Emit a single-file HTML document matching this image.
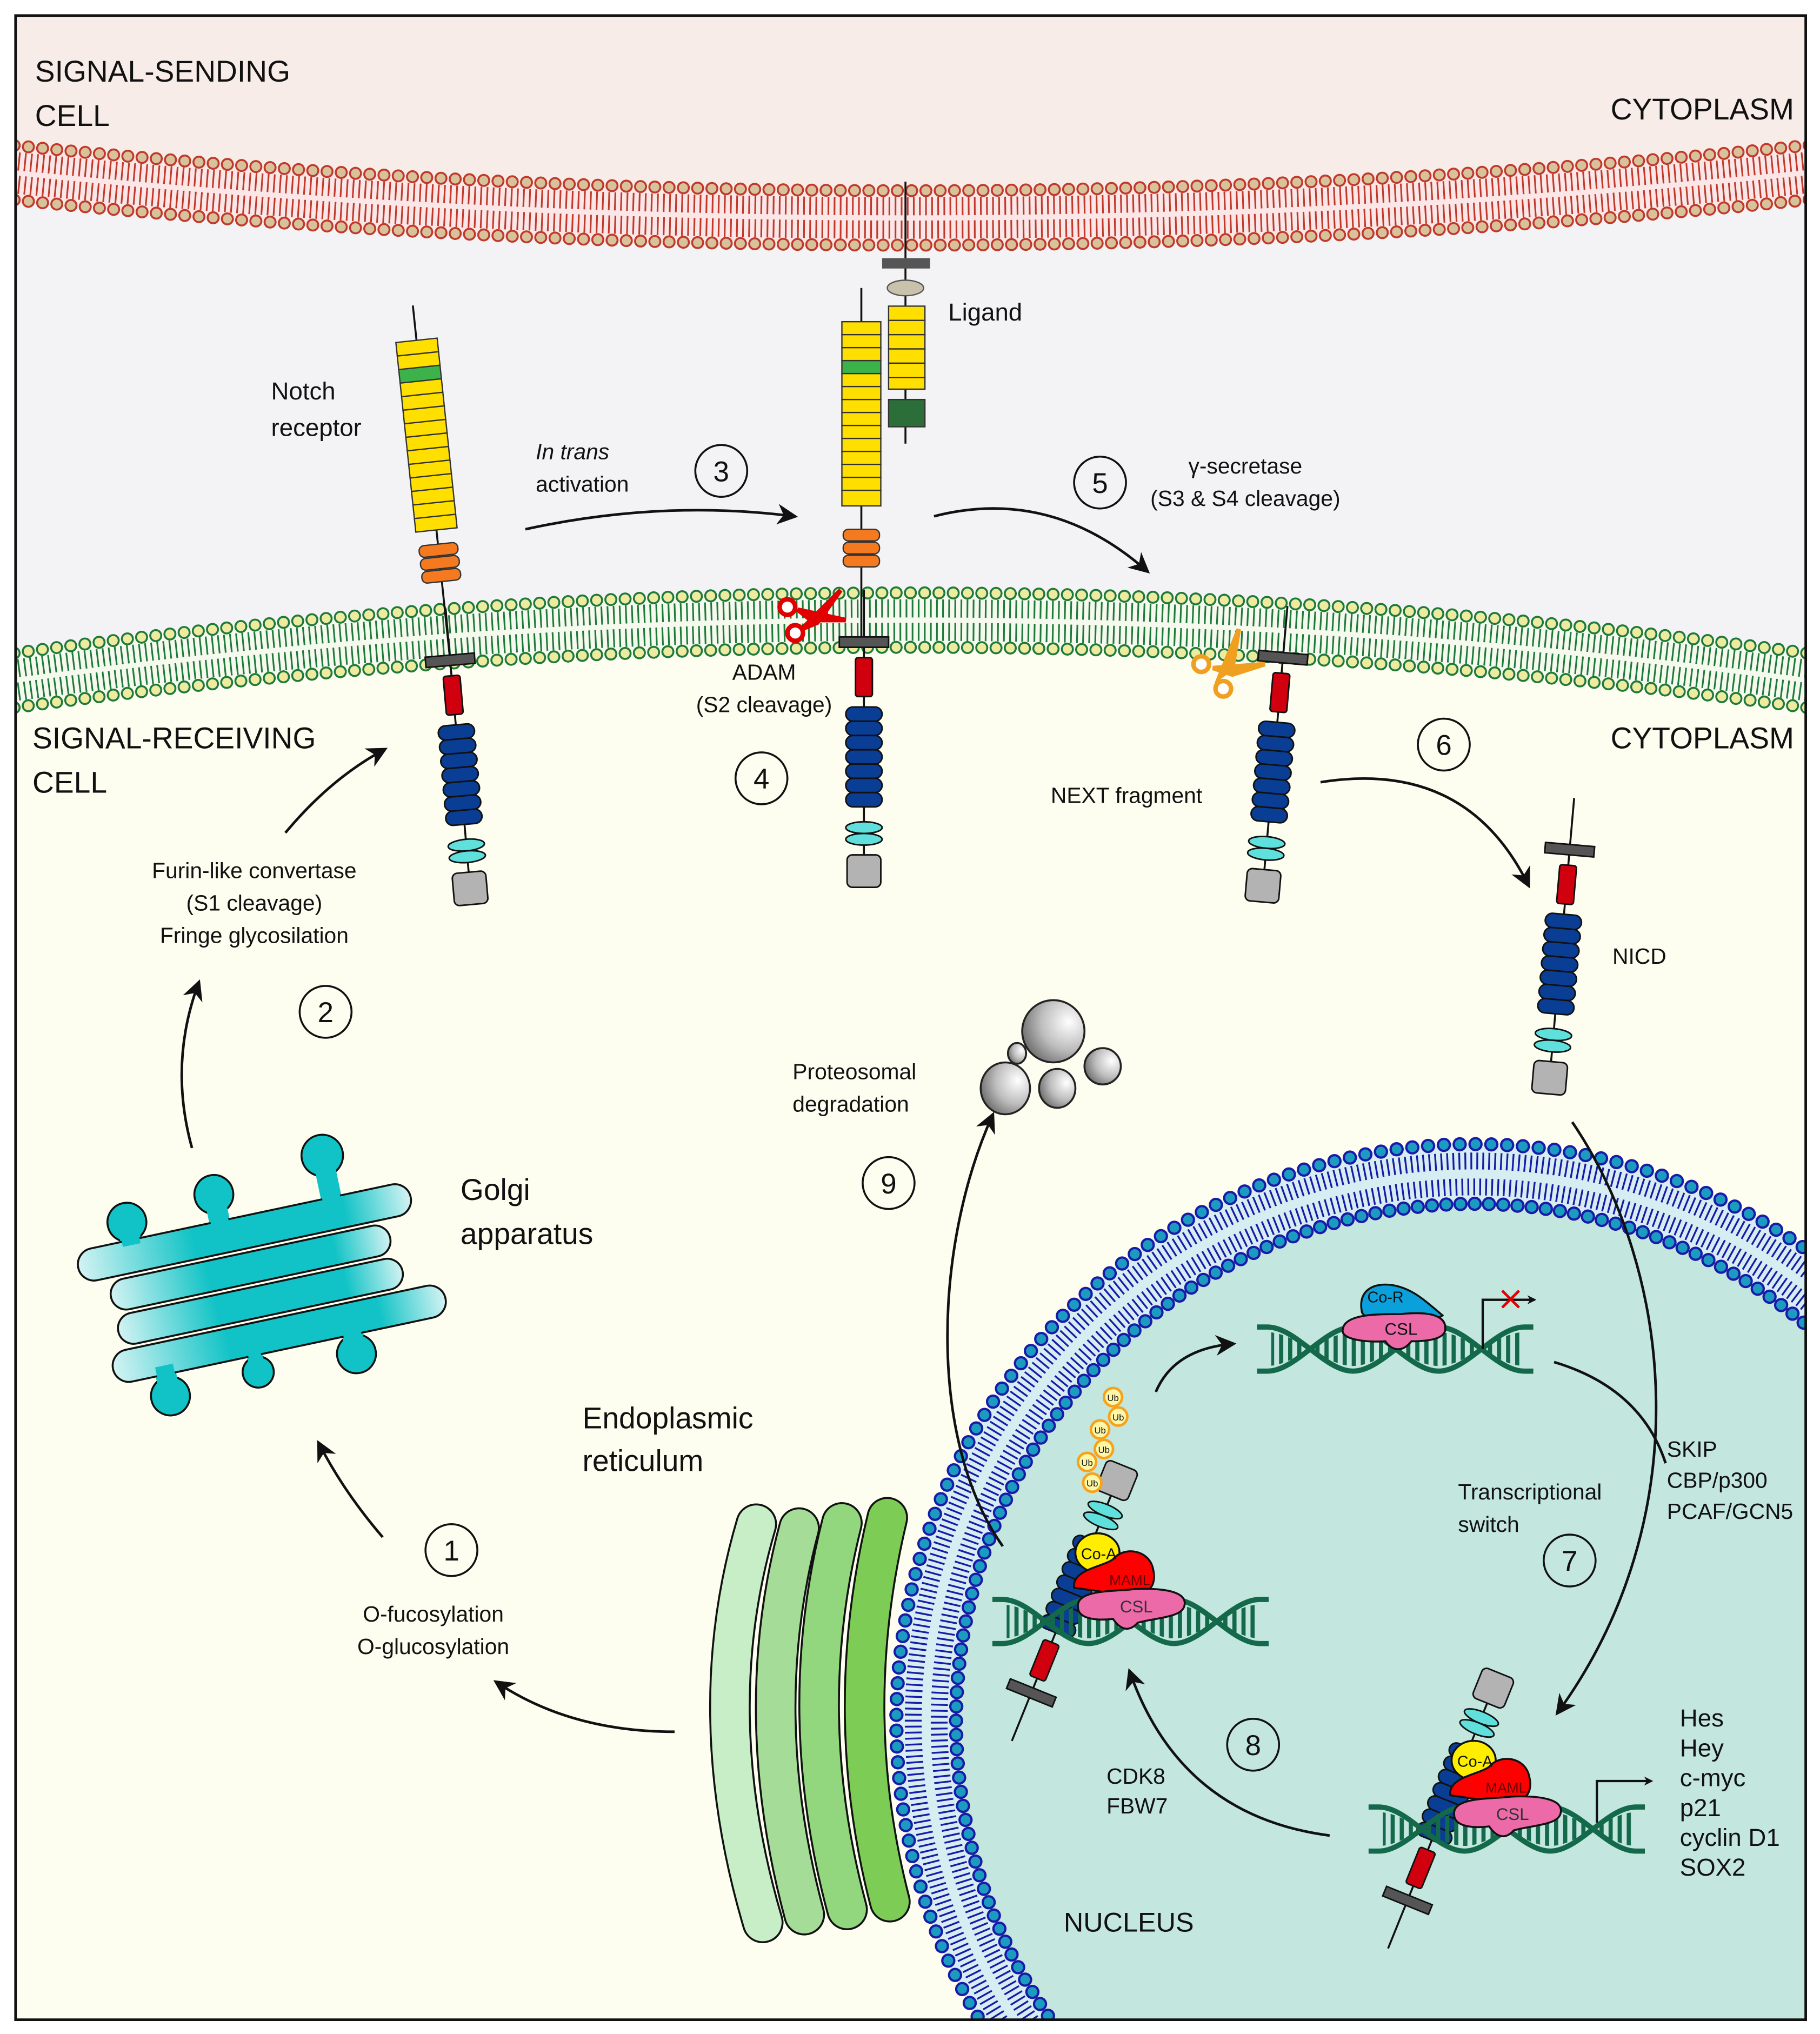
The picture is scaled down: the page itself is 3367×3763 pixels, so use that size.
<!DOCTYPE html>
<html><head><meta charset="utf-8">
<style>html,body{margin:0;padding:0;background:#fff;width:3367px;height:3763px;overflow:hidden}svg{display:block}text{font-family:"Liberation Sans",sans-serif;fill:#111}</style>
</head><body>
<svg xmlns="http://www.w3.org/2000/svg" xmlns:xlink="http://www.w3.org/1999/xlink" width="3367" height="3763" viewBox="0 0 1403 1568" preserveAspectRatio="none">
<defs>
<clipPath id="frame"><rect x="12" y="12" width="1380" height="1545"/></clipPath>
<marker id="ah" viewBox="0 0 10 10" refX="8" refY="5" markerWidth="7" markerHeight="7" markerUnits="userSpaceOnUse" orient="auto"><path d="M0,0 L10,5 L0,10 L3,5 Z" fill="#111"/></marker>
<marker id="ah2" viewBox="0 0 10 10" refX="8" refY="5" markerWidth="16" markerHeight="16" markerUnits="userSpaceOnUse" orient="auto"><path d="M0,0 L10,5 L0,10 L3,5 Z" fill="#111"/></marker>
<linearGradient id="golgi" x1="0" x2="1" y1="0" y2="0"><stop offset="0" stop-color="#d4f3f3"/><stop offset="0.35" stop-color="#11c3c6"/><stop offset="0.8" stop-color="#11c3c6"/><stop offset="1" stop-color="#d4f3f3"/></linearGradient>
<radialGradient id="prot" cx="0.75" cy="0.35" r="0.9"><stop offset="0" stop-color="#ffffff"/><stop offset="0.5" stop-color="#bdbdbd"/><stop offset="1" stop-color="#555"/></radialGradient>
<pattern id="rungs" width="7" height="40" patternUnits="userSpaceOnUse"><rect x="0" y="0" width="3.2" height="40" fill="#14694a"/></pattern>
<clipPath id="dnaclip"><path d="M5,-13 C27,-13 49,13 71,13 C93,13 115,-13 137,-13 C159,-13 181,13 203,13 L203,-13 C181,-13 159,13 137,13 C115,13 93,-13 71,-13 C49,-13 27,13 5,13 Z"/></clipPath>
<g id="dna">
<rect x="8" y="-20" width="192" height="40" fill="url(#rungs)" clip-path="url(#dnaclip)"/>
<path d="M-3,-17 L5,-17 C27,-17 49,17 71,17 C93,17 115,-17 137,-17 C159,-17 181,17 203,17 L210,17" fill="none" stroke="#14694a" stroke-width="4"/>
<path d="M-3,17 L5,17 C27,17 49,-17 71,-17 C93,-17 115,17 137,17 C159,17 181,-17 203,-17 L210,-17" fill="none" stroke="#14694a" stroke-width="4"/>
</g>
<g id="icd" stroke="#111" stroke-width="1.2">
<line x1="0" y1="-40" x2="0" y2="185" stroke-width="1.5"/>
<rect x="-19" y="-4" width="38" height="8" fill="#555"/>
<rect x="-6.5" y="12" width="13" height="30" rx="2" fill="#d0000e"/>
<rect x="-14" y="50" width="28" height="11" rx="5.5" fill="#0a3d94"/>
<rect x="-14" y="61" width="28" height="11" rx="5.5" fill="#0a3d94"/>
<rect x="-14" y="72" width="28" height="11" rx="5.5" fill="#0a3d94"/>
<rect x="-14" y="83" width="28" height="11" rx="5.5" fill="#0a3d94"/>
<rect x="-14" y="94" width="28" height="11" rx="5.5" fill="#0a3d94"/>
<rect x="-14" y="105" width="28" height="11" rx="5.5" fill="#0a3d94"/>
<rect x="-14" y="116" width="28" height="11" rx="5.5" fill="#0a3d94"/>
<ellipse cx="0" cy="143" rx="14" ry="4.5" fill="#5fe0dc"/>
<ellipse cx="0" cy="152" rx="14" ry="4.5" fill="#5fe0dc"/>
<rect x="-13" y="164" width="26" height="25" rx="4" fill="#b3b3b3"/>
</g>
<g id="complex">
<use xlink:href="#icd" transform="translate(795,1305) rotate(-158)"/>
<use xlink:href="#dna" transform="translate(768,1250)"/>
<ellipse cx="846" cy="1197" rx="17" ry="15" fill="#ffee00" stroke="#111" stroke-width="1.5"/>
<path d="M828,1224 C826,1210 850,1208 858,1202 C866,1192 886,1194 889,1210 C892,1224 884,1230 870,1230 Z" fill="#ff0000" stroke="#111" stroke-width="1.5"/>
<path d="M831,1239 C829,1225 860,1227 875,1225 C897,1224 916,1227 913,1238 C911,1247 891,1247 877,1251 C869,1260 862,1254 858,1248 C840,1250 831,1246 831,1239 Z" fill="#ec6aa8" stroke="#111" stroke-width="1.5"/>
<text x="847" y="1202" font-size="12" text-anchor="middle">Co-A</text>
<text x="871" y="1222" font-size="11" text-anchor="middle" style="fill:#600">MAML</text>
<text x="876" y="1243" font-size="13" text-anchor="middle" style="fill:#333">CSL</text>
</g>
</defs>

<rect x="0" y="0" width="1403" height="1568" fill="#fff"/>
<g clip-path="url(#frame)">
<rect x="12" y="12" width="1380" height="1545" fill="#fdfdf0"/>
<path d="M0,0 H1404 V132 Q702,204 0,132 Z" fill="#f7ece8"/>
<path d="M0,132 Q702,204 1404,132 V526 Q702,430 0,526 Z" fill="#f3f3f6"/>

<!-- red membrane -->
<g fill="none">
<path d="M0,132 Q702,204 1404,132" stroke="#fbe7e7" stroke-width="46"/>
<path d="M0,123 Q702,195 1404,123" stroke="#c0392b" stroke-width="14" stroke-dasharray="1.3 3.4"/>
<path d="M0,141 Q702,213 1404,141" stroke="#c0392b" stroke-width="14" stroke-dasharray="1.3 3.4"/>
<path d="M0,111 Q702,183 1404,111" stroke="#c0392b" stroke-width="10" stroke-linecap="round" stroke-dasharray="0 11"/>
<path d="M0,111 Q702,183 1404,111" stroke="#d8c29c" stroke-width="7" stroke-linecap="round" stroke-dasharray="0 11"/>
<path d="M0,153 Q702,225 1404,153" stroke="#c0392b" stroke-width="10" stroke-linecap="round" stroke-dasharray="0 11"/>
<path d="M0,153 Q702,225 1404,153" stroke="#d8c29c" stroke-width="7" stroke-linecap="round" stroke-dasharray="0 11"/>
</g>
<!-- green membrane -->
<g fill="none">
<path d="M0,526 Q702,430 1404,526" stroke="#f6f9ee" stroke-width="46"/>
<path d="M0,517 Q702,421 1404,517" stroke="#1e7a3a" stroke-width="14" stroke-dasharray="1.3 3.4"/>
<path d="M0,535 Q702,439 1404,535" stroke="#1e7a3a" stroke-width="14" stroke-dasharray="1.3 3.4"/>
<path d="M0,505 Q702,409 1404,505" stroke="#1e7a3a" stroke-width="10" stroke-linecap="round" stroke-dasharray="0 11"/>
<path d="M0,505 Q702,409 1404,505" stroke="#eeeaa0" stroke-width="7" stroke-linecap="round" stroke-dasharray="0 11"/>
<path d="M0,547 Q702,451 1404,547" stroke="#1e7a3a" stroke-width="10" stroke-linecap="round" stroke-dasharray="0 11"/>
<path d="M0,547 Q702,451 1404,547" stroke="#eeeaa0" stroke-width="7" stroke-linecap="round" stroke-dasharray="0 11"/>
</g>

<!-- nucleus -->
<circle cx="1136" cy="1327" r="400" fill="#c3e6df"/>
<g fill="none">
<circle cx="1136" cy="1327" r="422" stroke="#d6eef2" stroke-width="48"/>
<circle cx="1136" cy="1327" r="432" stroke="#1a1aa8" stroke-width="13" stroke-dasharray="1.4 3.2"/>
<circle cx="1136" cy="1327" r="412" stroke="#1a1aa8" stroke-width="13" stroke-dasharray="1.4 3.2"/>
<circle cx="1136" cy="1327" r="445" stroke="#1a1aa8" stroke-width="11" stroke-linecap="round" stroke-dasharray="0 12.2"/>
<circle cx="1136" cy="1327" r="445" stroke="#1a9bbf" stroke-width="7.5" stroke-linecap="round" stroke-dasharray="0 12.2"/>
<circle cx="1136" cy="1327" r="399" stroke="#1a1aa8" stroke-width="11" stroke-linecap="round" stroke-dasharray="0 11"/>
<circle cx="1136" cy="1327" r="399" stroke="#1a9bbf" stroke-width="7.5" stroke-linecap="round" stroke-dasharray="0 11"/>
</g>

<!-- Golgi -->
<g transform="rotate(-12 200 990)" stroke="#111" stroke-width="1.5" fill="#11c3c6">
<circle cx="110" cy="922" r="15"/>
<circle cx="180" cy="915" r="15"/>
<circle cx="268" cy="903" r="16"/>
<circle cx="115" cy="1060" r="15"/>
<circle cx="185" cy="1056" r="12"/>
<circle cx="262" cy="1058" r="15"/>
<g stroke="none"><rect x="102" y="922" width="16" height="20"/><rect x="172" y="915" width="16" height="25"/><rect x="260" y="903" width="16" height="36"/>
<rect x="107" y="1038" width="16" height="22"/><rect x="179" y="1038" width="12" height="18"/><rect x="254" y="1038" width="16" height="20"/></g>
<g fill="url(#golgi)">
<rect x="66" y="936" width="262" height="25" rx="12.5"/>
<rect x="86" y="964" width="220" height="24" rx="12"/>
<rect x="86" y="991" width="224" height="24" rx="12"/>
<rect x="76" y="1018" width="262" height="25" rx="12.5"/>
</g>
<g stroke="none"><rect x="103" y="930" width="14" height="10"/><rect x="173" y="930" width="14" height="10"/><rect x="261" y="930" width="14" height="10"/>
<rect x="108" y="1036" width="14" height="10"/><rect x="180" y="1036" width="10" height="10"/><rect x="255" y="1036" width="14" height="10"/></g>
</g>

<!-- ER -->
<g fill="none" stroke-linecap="round">
<path d="M583,1175 Q540,1320 588,1482" stroke="#111" stroke-width="32"/>
<path d="M583,1175 Q540,1320 588,1482" stroke="#c8eec8" stroke-width="29"/>
<path d="M616,1178 Q578,1320 620,1476" stroke="#111" stroke-width="32"/>
<path d="M616,1178 Q578,1320 620,1476" stroke="#a4dc98" stroke-width="29"/>
<path d="M649,1174 Q612,1320 653,1472" stroke="#111" stroke-width="32"/>
<path d="M649,1174 Q612,1320 653,1472" stroke="#92d67e" stroke-width="29"/>
<path d="M684,1170 Q648,1320 686,1466" stroke="#111" stroke-width="32"/>
<path d="M684,1170 Q648,1320 686,1466" stroke="#7ccc55" stroke-width="29"/>
</g>

<!-- Receptor 1 -->
<g transform="translate(347,509) rotate(-6)">
<line x1="0" y1="-275" x2="0" y2="0" stroke="#111" stroke-width="1.5"/>
<g stroke="#333" stroke-width="1" fill="#ffdf00">
<rect x="-16" y="-248" width="32" height="10.5"/><rect x="-16" y="-237.5" width="32" height="10.5"/>
<rect x="-16" y="-227" width="32" height="10.5" fill="#3cb34a"/>
<rect x="-16" y="-216.5" width="32" height="10.5"/><rect x="-16" y="-206" width="32" height="10.5"/>
<rect x="-16" y="-195.5" width="32" height="10.5"/><rect x="-16" y="-185" width="32" height="10.5"/>
<rect x="-16" y="-174.5" width="32" height="10.5"/><rect x="-16" y="-164" width="32" height="10.5"/>
<rect x="-16" y="-153.5" width="32" height="10.5"/><rect x="-16" y="-143" width="32" height="10.5"/>
<rect x="-16" y="-132.5" width="32" height="10.5"/><rect x="-16" y="-122" width="32" height="10.5"/>
<rect x="-16" y="-111.5" width="32" height="10.5"/>
<rect x="-15" y="-90" width="30" height="9" rx="4" fill="#f57a1f"/>
<rect x="-15" y="-80" width="30" height="9" rx="4" fill="#f57a1f"/>
<rect x="-15" y="-70" width="30" height="9" rx="4" fill="#f57a1f"/>
</g>
<use xlink:href="#icd" transform="rotate(1)"/>
</g>

<!-- Receptor 2 + ligand -->
<line x1="664" y1="222" x2="664" y2="495" stroke="#111" stroke-width="1.5"/>
<g stroke="#333" stroke-width="1" fill="#ffdf00">
<rect x="649" y="248" width="30" height="10"/><rect x="649" y="258" width="30" height="10"/>
<rect x="649" y="268" width="30" height="10"/><rect x="649" y="278" width="30" height="10" fill="#3cb34a"/>
<rect x="649" y="288" width="30" height="10"/><rect x="649" y="298" width="30" height="10"/>
<rect x="649" y="308" width="30" height="10"/><rect x="649" y="318" width="30" height="10"/>
<rect x="649" y="328" width="30" height="10"/><rect x="649" y="338" width="30" height="10"/>
<rect x="649" y="348" width="30" height="10"/><rect x="649" y="358" width="30" height="10"/>
<rect x="649" y="368" width="30" height="10"/><rect x="649" y="378" width="30" height="12"/>
<rect x="650" y="408" width="28" height="9" rx="4" fill="#f57a1f"/>
<rect x="650" y="418" width="28" height="9" rx="4" fill="#f57a1f"/>
<rect x="650" y="428" width="28" height="9" rx="4" fill="#f57a1f"/>
</g>
<line x1="698" y1="140" x2="698" y2="342" stroke="#111" stroke-width="1.5"/>
<rect x="680" y="199" width="37" height="8" fill="#555"/>
<ellipse cx="698" cy="222" rx="14" ry="6" fill="#c8c2ac" stroke="#555"/>
<g stroke="#333" stroke-width="1" fill="#ffdf00">
<rect x="685" y="236" width="28" height="11"/><rect x="685" y="247" width="28" height="11"/>
<rect x="685" y="258" width="28" height="11"/><rect x="685" y="269" width="28" height="11"/>
<rect x="685" y="280" width="28" height="11"/><rect x="685" y="291" width="28" height="9"/>
<rect x="685" y="308" width="28" height="21" fill="#2b6e3a"/>
</g>
<use xlink:href="#icd" transform="translate(666,495)"/>

<!-- Receptor 3 -->
<use xlink:href="#icd" transform="translate(989,507) rotate(5)"/>
<!-- NICD -->
<use xlink:href="#icd" transform="translate(1210,655) rotate(5)"/>

<!-- scissors -->
<g stroke="#e00000" stroke-width="3.5" fill="#fff">
<path d="M615,470 L652,478 L625,478 Z" fill="#e00000"/>
<path d="M618,485 L648,455 L630,480 Z" fill="#e00000"/>
<circle cx="607" cy="468" r="6"/><circle cx="613" cy="488" r="6"/>
</g>
<g stroke="#f0a020" stroke-width="3.5" fill="#fff">
<path d="M935,515 L975,512 L950,520 Z" fill="#f0a020"/>
<path d="M940,522 L955,485 L950,515 Z" fill="#f0a020"/>
<circle cx="926" cy="512" r="6"/><circle cx="943" cy="531" r="6"/>
</g>

<!-- proteasome -->
<g stroke="#222" stroke-width="1.5" fill="url(#prot)">
<ellipse cx="812" cy="795" rx="24" ry="24"/>
<ellipse cx="775" cy="839" rx="19" ry="20"/>
<ellipse cx="815" cy="839" rx="14" ry="15"/>
<ellipse cx="850" cy="822" rx="14" ry="14"/>
<ellipse cx="784" cy="812" rx="7" ry="8"/>
</g>

<!-- nuclear DNA & complexes -->
<use xlink:href="#dna" transform="translate(972,1040)"/>
<path d="M1050,1012 C1046,994 1060,988 1075,991 C1090,994 1100,1004 1112,1014 C1105,1020 1080,1018 1055,1018 Z" fill="#0aa0dc" stroke="#111" stroke-width="1.5"/>
<path d="M1035,1026 C1035,1013 1060,1013 1080,1013 C1100,1011 1116,1013 1114,1026 C1112,1033 1098,1034 1088,1034 C1080,1044 1072,1040 1068,1034 C1050,1035 1035,1032 1035,1026 Z" fill="#ec6aa8" stroke="#111" stroke-width="1.5"/>
<text x="1068" y="1004" font-size="12" text-anchor="middle">Co-R</text>
<text x="1080" y="1029" font-size="13" text-anchor="middle">CSL</text>
<path d="M1143,1040 V1002 H1183" fill="none" stroke="#111" stroke-width="1.8" marker-end="url(#ah)"/>
<path d="M1158,995 L1171,1008 M1171,995 L1158,1008" stroke="#e00000" stroke-width="2"/>

<use xlink:href="#complex"/>
<use xlink:href="#complex" transform="translate(290,160)"/>
<path d="M1231,1405 V1373 H1273" fill="none" stroke="#111" stroke-width="1.8" marker-end="url(#ah)"/>
<!-- ubiquitin -->
<g stroke="#f7a21b" stroke-width="2" fill="#fff7a8">
<circle cx="858" cy="1077" r="7"/><circle cx="862" cy="1092" r="7"/>
<circle cx="848" cy="1102" r="7"/><circle cx="851" cy="1117" r="7"/>
<circle cx="838" cy="1127" r="7"/><circle cx="842" cy="1143" r="7"/>
</g>
<g font-size="7" text-anchor="middle"><text x="858" y="1080">Ub</text><text x="862" y="1095">Ub</text><text x="848" y="1105">Ub</text><text x="851" y="1120">Ub</text><text x="838" y="1130">Ub</text><text x="842" y="1146">Ub</text></g>

<!-- arrows -->
<g fill="none" stroke="#111" stroke-width="2">
<path d="M520,1335 Q440,1335 383,1297" marker-end="url(#ah2)"/>
<path d="M295,1185 Q265,1150 246,1113" marker-end="url(#ah2)"/>
<path d="M148,885 Q130,820 153,758" marker-end="url(#ah2)"/>
<path d="M220,642 Q255,600 296,578" marker-end="url(#ah2)"/>
<path d="M405,408 Q510,385 612,398" marker-end="url(#ah2)"/>
<path d="M720,398 Q810,375 884,440" marker-end="url(#ah2)"/>
<path d="M1018,603 Q1130,585 1178,682" marker-end="url(#ah2)"/>
<path d="M1212,865 C1290,980 1310,1170 1201,1320" marker-end="url(#ah2)"/>
<path d="M1198,1050 Q1265,1070 1284,1128"/>
<path d="M891,1073 Q905,1040 950,1036" marker-end="url(#ah2)"/>
<path d="M1025,1415 Q910,1400 871,1289" marker-end="url(#ah2)"/>
<path d="M773,1192 C715,1110 720,960 765,860" marker-end="url(#ah2)"/>
</g>

<!-- numbered circles -->
<g fill="none" stroke="#111" stroke-width="1.5">
<circle cx="348" cy="1195" r="20"/><circle cx="251" cy="780" r="20"/><circle cx="556" cy="363" r="20"/>
<circle cx="587" cy="600" r="20"/><circle cx="848" cy="372" r="20"/><circle cx="1113" cy="574" r="20"/>
<circle cx="1210" cy="1203" r="20"/><circle cx="966" cy="1345" r="20"/><circle cx="685" cy="912" r="20"/>
</g>
<g font-size="22" text-anchor="middle">
<text x="348" y="1203">1</text><text x="251" y="788">2</text><text x="556" y="371">3</text>
<text x="587" y="608">4</text><text x="848" y="380">5</text><text x="1113" y="582">6</text>
<text x="1210" y="1211">7</text><text x="966" y="1353">8</text><text x="685" y="920">9</text>
</g>

<!-- labels -->
<g font-size="23">
<text x="27" y="63">SIGNAL-SENDING</text><text x="27" y="97">CELL</text>
<text x="1383" y="92" text-anchor="end">CYTOPLASM</text>
<text x="25" y="577">SIGNAL-RECEIVING</text><text x="25" y="611">CELL</text>
<text x="1383" y="577" text-anchor="end">CYTOPLASM</text>
<text x="355" y="925">Golgi</text><text x="355" y="959">apparatus</text>
<text x="449" y="1101">Endoplasmic</text><text x="449" y="1134">reticulum</text>
<text x="820" y="1489" font-size="21">NUCLEUS</text>
</g>
<g font-size="19">
<text x="209" y="308">Notch</text><text x="209" y="336">receptor</text>
<text x="731" y="247">Ligand</text>
<text x="1295" y="1331">Hes</text><text x="1295" y="1354">Hey</text><text x="1295" y="1377">c-myc</text>
<text x="1295" y="1400">p21</text><text x="1295" y="1423">cyclin D1</text><text x="1295" y="1446">SOX2</text>
</g>
<g font-size="17">
<text x="413" y="354" font-style="italic">In trans</text><text x="413" y="379">activation</text>
<text x="960" y="365" text-anchor="middle">γ-secretase</text><text x="960" y="390" text-anchor="middle">(S3 &amp; S4 cleavage)</text>
<text x="589" y="524" text-anchor="middle">ADAM</text><text x="589" y="549" text-anchor="middle">(S2 cleavage)</text>
<text x="810" y="619">NEXT fragment</text>
<text x="1243" y="743">NICD</text>
<text x="196" y="677" text-anchor="middle">Furin-like convertase</text>
<text x="196" y="702" text-anchor="middle">(S1 cleavage)</text>
<text x="196" y="727" text-anchor="middle">Fringe glycosilation</text>
<text x="611" y="832">Proteosomal</text><text x="611" y="857">degradation</text>
<text x="334" y="1250" text-anchor="middle">O-fucosylation</text><text x="334" y="1275" text-anchor="middle">O-glucosylation</text>
<text x="1285" y="1123">SKIP</text><text x="1285" y="1147">CBP/p300</text><text x="1285" y="1171">PCAF/GCN5</text>
<text x="1124" y="1156">Transcriptional</text><text x="1124" y="1181">switch</text>
<text x="853" y="1375">CDK8</text><text x="853" y="1398">FBW7</text>
</g>
</g>
<rect x="12" y="12" width="1380" height="1545" fill="none" stroke="#111" stroke-width="2"/>
</svg>
</body></html>
